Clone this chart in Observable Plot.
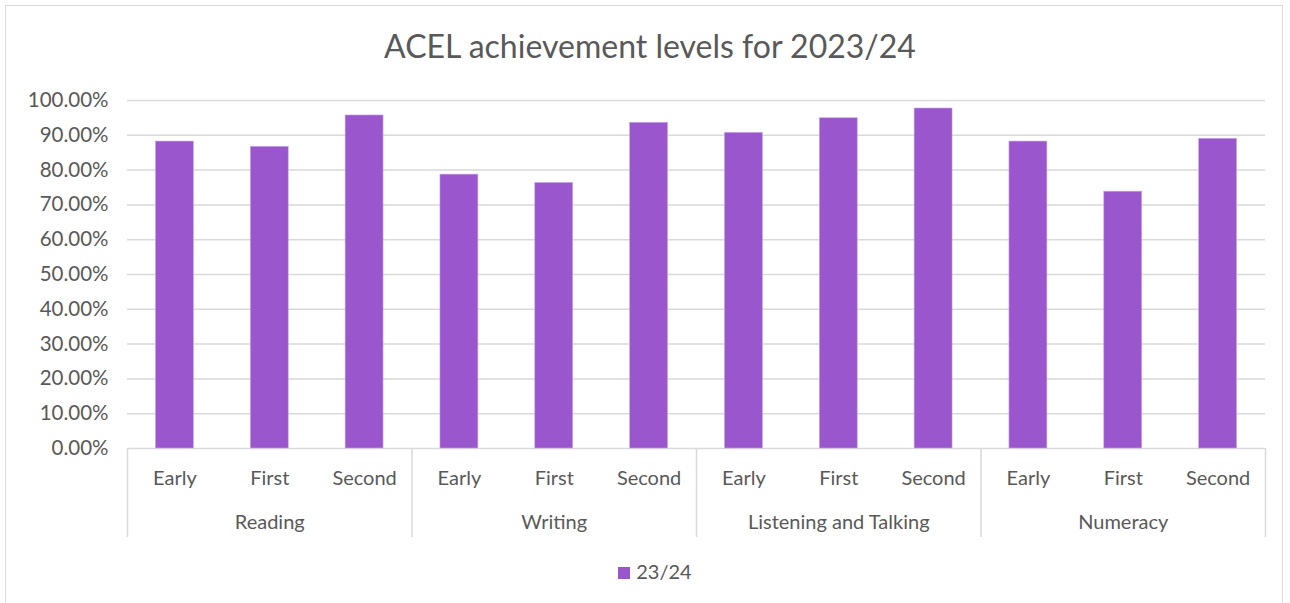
<!DOCTYPE html>
<html><head><meta charset="utf-8">
<script src="https://cdn.jsdelivr.net/npm/d3@7"></script>
<script src="https://cdn.jsdelivr.net/npm/@observablehq/plot@0.6"></script>
<style>
html,body{margin:0;padding:0;background:#fff;overflow:hidden;font-family:Lato,"Open Sans",sans-serif;}
#frame{position:absolute;left:5px;top:5px;width:1278px;height:640px;border:1px solid #d9d9d9;box-sizing:border-box;}
#title{position:absolute;left:0;top:26px;width:1300px;text-align:center;font-size:32px;color:#595959;}
#chart{position:absolute;left:0;top:80px;}
#legend{position:absolute;left:0;top:559px;width:1310px;text-align:center;font-size:20px;color:#595959;}
#legend .sw{display:inline-block;width:12px;height:12px;background:#9A57CD;margin-right:6px;vertical-align:0px;}
</style></head>
<body>
<div id="frame"></div>
<div id="title">ACEL achievement levels for 2023/24</div>
<div id="chart"></div>
<div id="legend"></div>
<script>
const groups = ["Reading", "Writing", "Listening and Talking", "Numeracy"];
const levels = ["Early", "First", "Second"];
const seriesName = "23/24";
const values = [0.882, 0.867, 0.957, 0.787, 0.763, 0.936, 0.907, 0.949, 0.977, 0.882, 0.738, 0.890];
const yTicks = [0, 0.1, 0.2, 0.3, 0.4, 0.5, 0.6, 0.7, 0.8, 0.9, 1.0];

const rows = [];
groups.forEach((g, gi) => levels.forEach((l, li) => rows.push({group: g, level: l, key: g + "|" + l, value: values[gi * levels.length + li]})));
const keys = rows.map(d => d.key);

const W = 1290, H = 470, mL = 127, mR = 25, mT = 20, mB = 102;
const innerH = H - mT - mB;
const step = (W - mL - mR) / keys.length;
const color = "#9A57CD", textColor = "#595959", gridColor = "#d9d9d9";

const firstKeys = groups.map(g => g + "|" + levels[0]);
const lastKey = keys[keys.length - 1];
const midKeys = groups.map(g => ({group: g, key: g + "|" + levels[1]}));

const chart = Plot.plot({
  width: W, height: H, marginLeft: mL, marginRight: mR, marginTop: mT, marginBottom: mB,
  style: {fontFamily: "Lato, 'Open Sans', sans-serif", color: textColor, background: "transparent"},
  x: {type: "band", domain: keys, paddingInner: 0.6, paddingOuter: 0.3, round: false, axis: null},
  y: {domain: [0, 1], axis: null},
  marks: [
    Plot.gridY(yTicks, {stroke: gridColor, strokeOpacity: 1, strokeWidth: 1.5}),
    Plot.axisY(yTicks, {tickSize: 0, tickPadding: 19, label: null, tickFormat: d => (d * 100).toFixed(2) + "%", fontSize: 20.5, fill: textColor}),
    Plot.barY(rows, {x: "key", y: "value", fill: color, stroke: "#c9a6e6", strokeWidth: 0.6}),
    Plot.text(rows, {x: "key", text: "level", frameAnchor: "bottom", dy: 36, fontSize: 20, fill: textColor}),
    Plot.text(midKeys, {x: "key", text: "group", frameAnchor: "bottom", dy: 80, fontSize: 20, fill: textColor}),
    Plot.ruleX(firstKeys, {x: d => d, dx: -step / 2, insetTop: innerH, insetBottom: -89, stroke: gridColor, strokeWidth: 1.5}),
    Plot.ruleX([lastKey], {x: d => d, dx: step / 2, insetTop: innerH, insetBottom: -89, stroke: gridColor, strokeWidth: 1.5})
  ]
});
document.getElementById("chart").appendChild(chart);
document.getElementById("legend").innerHTML = '<span class="sw"></span>' + seriesName;
</script>
</body></html>
